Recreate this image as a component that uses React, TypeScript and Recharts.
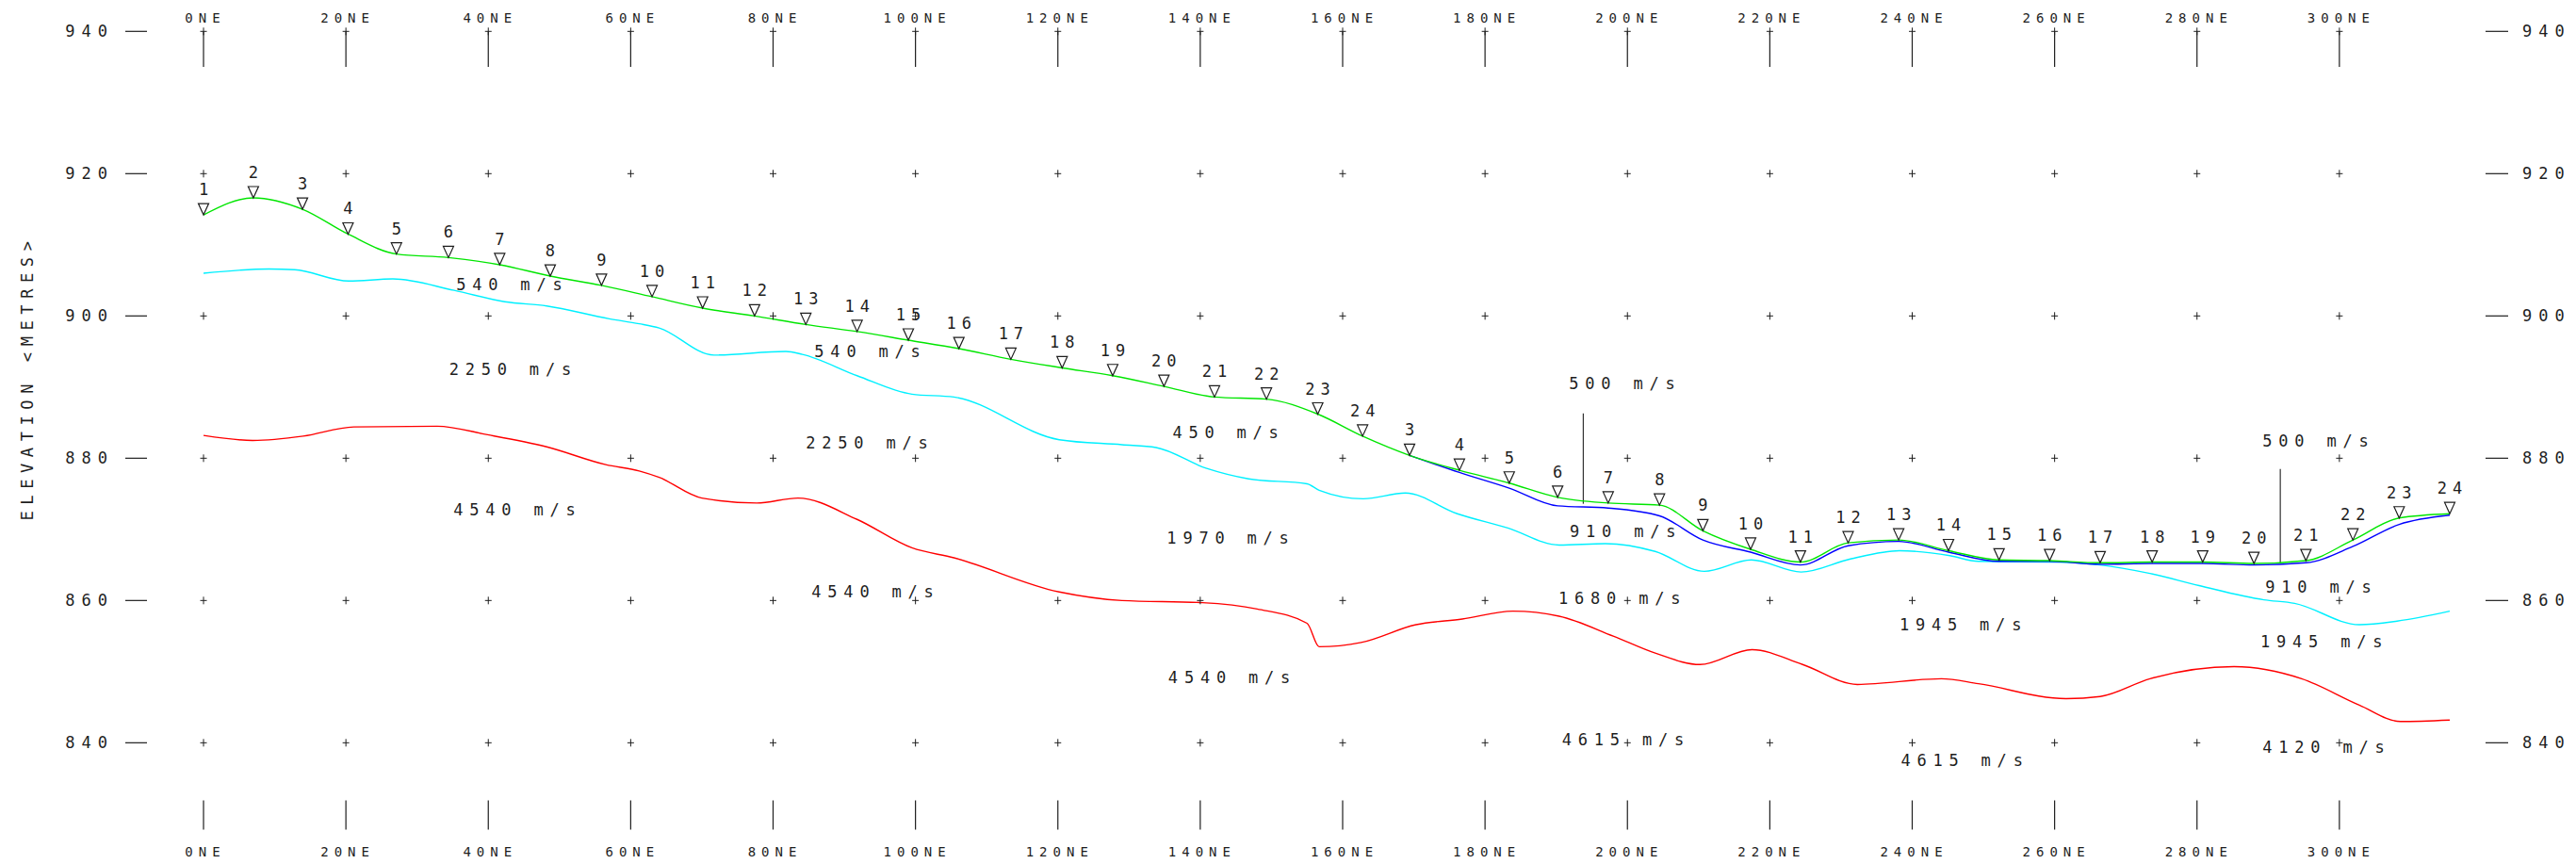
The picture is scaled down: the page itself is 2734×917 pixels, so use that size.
import React from 'react';
import { ComposedChart, Line, Scatter, XAxis, YAxis, ReferenceLine } from 'recharts';

// axis ticks
const stationTicks = [0, 20, 40, 60, 80, 100, 120, 140, 160, 180, 200, 220, 240, 260, 280, 300];
const elevTicks = [840, 860, 880, 900, 920, 940];

// first geophone spread (ground surface, green)
const spreadANumbers = [1, 2, 3, 4, 5, 6, 7, 8, 9, 10, 11, 12, 13, 14, 15, 16, 17, 18, 19, 20, 21, 22, 23, 24];
const spreadAStations = [0, 7.0, 13.9, 20.3, 27.1, 34.4, 41.6, 48.7, 55.9, 63.0, 70.1, 77.4, 84.6, 91.8, 99.0, 106.1, 113.4, 120.6, 127.7, 134.9, 142.0, 149.3, 156.5, 162.8];
const spreadAElev = [914.2, 916.6, 915.0, 911.5, 908.7, 908.2, 907.2, 905.6, 904.3, 902.7, 901.1, 900.0, 898.8, 897.8, 896.6, 895.4, 893.9, 892.7, 891.6, 890.1, 888.6, 888.3, 886.2, 883.1];

// second geophone spread
const spreadBNumbers = [3, 4, 5, 6, 7, 8, 9, 10, 11, 12, 13, 14, 15, 16, 17, 18, 19, 20, 21, 22, 23, 24];
const spreadBStations = [169.4, 176.4, 183.4, 190.2, 197.3, 204.5, 210.6, 217.3, 224.3, 231.0, 238.1, 245.1, 252.2, 259.3, 266.4, 273.7, 280.8, 288.0, 295.3, 301.9, 308.4, 315.5];
const spreadBElev = [880.4, 878.3, 876.5, 874.5, 873.7, 873.4, 869.8, 867.2, 865.4, 868.1, 868.5, 867.0, 865.7, 865.6, 865.3, 865.4, 865.4, 865.2, 865.6, 868.5, 871.6, 872.2];

// blue refractor (second spread)
const blueStations = [169.4, 176.4, 183.4, 190.2, 197.3, 204.5, 210.6, 217.3, 224.3, 231.0, 238.1, 245.1, 252.2, 259.3, 266.4, 273.7, 280.8, 288.0, 295.3, 301.9, 308.4, 315.5];
const blueElev = [880.4, 878.0, 875.8, 873.3, 873.0, 871.9, 868.5, 866.8, 865.0, 867.7, 868.3, 866.8, 865.5, 865.5, 865.1, 865.2, 865.2, 865.0, 865.3, 867.6, 870.7, 872.0];

// cyan refractor
const cyanStations = [0, 9.2, 12.8, 20.4, 26.6, 35.2, 42.3, 48.2, 57, 61.2, 64, 71.7, 81.8, 84.1, 91.8, 99.5, 105.4, 120.2, 129, 133.8, 140.8, 146.8, 155, 156.7, 162.9, 168.8, 176.1, 183.2, 190.4, 196.9, 203.9, 210.8, 217.4, 224.4, 231.2, 238.2, 245.3, 249.3, 260, 266.4, 273.4, 280.3, 289.4, 293.7, 302.8, 308.1, 315.5];
const cyanElev = [906.0, 906.6, 906.5, 904.9, 905.2, 903.6, 902.0, 901.4, 899.6, 898.9, 898.3, 894.5, 895.0, 894.6, 891.6, 889.0, 888.6, 882.6, 881.9, 881.5, 878.6, 877.1, 876.4, 875.5, 874.3, 875.1, 872.2, 870.2, 867.8, 868.0, 866.9, 864.1, 865.7, 864.0, 865.8, 867.0, 866.3, 865.5, 865.4, 865.0, 863.8, 862.1, 860.1, 859.6, 856.6, 857.1, 858.5];

// red refractor
const redStations = [0, 6.9, 14, 21.1, 32.8, 39.9, 48.2, 56.5, 61.2, 64, 70, 77.7, 83.5, 91.8, 99.5, 105.4, 120.2, 129, 140.3, 148, 155, 156.7, 162.6, 170.3, 176.8, 183.9, 190.4, 198, 203.9, 210.2, 217.5, 224.6, 232.3, 244.1, 249.3, 261.6, 266.4, 273.4, 285.2, 294.7, 302.8, 308.6, 315.5];
const redElev = [883.2, 882.5, 883.1, 884.4, 884.5, 883.3, 881.6, 879.1, 878.2, 877.3, 874.4, 873.7, 874.4, 871.4, 867.4, 866.0, 861.2, 860.0, 859.7, 858.8, 856.8, 853.5, 854.1, 856.6, 857.4, 858.5, 857.8, 855.0, 852.6, 851.0, 853.1, 851.0, 848.2, 849.0, 848.3, 846.2, 846.5, 849.0, 850.7, 849.0, 845.3, 843.0, 843.2];

// layer velocity labels
const velocityText = ['540 m/s', '2250 m/s', '4540 m/s', '540 m/s', '2250 m/s', '4540 m/s', '450 m/s', '1970 m/s', '4540 m/s', '500 m/s', '910 m/s', '1680 m/s', '4615 m/s', '1945 m/s', '4615 m/s', '500 m/s', '910 m/s', '1945 m/s', '4120 m/s'];
const velocityStations = [35.5, 34.5, 35.1, 85.8, 84.6, 85.4, 136.1, 135.3, 135.5, 191.8, 191.9, 190.3, 190.8, 238.2, 238.4, 289.2, 289.6, 288.9, 289.2];
const velocityElev = [904.4, 892.5, 872.7, 895.0, 882.2, 861.2, 883.6, 868.8, 849.2, 890.5, 869.7, 860.3, 840.4, 856.6, 837.5, 882.4, 861.9, 854.2, 839.4];

// shot point markers
const shotStations = [193.8, 291.7];
const shotTop = [886.3, 878.5];
const shotBottom = [873.6, 865.2];

const FONT = '"DejaVu Sans Mono", monospace';
const INK = '#1e1e1e';

const zip = (xs: number[], ys: number[]) => xs.map((x, i) => ({ x, y: ys[i] }));

const groundData = [...zip(spreadAStations, spreadAElev), ...zip(spreadBStations, spreadBElev)];
const geophoneData = [
  ...spreadAStations.map((x, i) => ({ x, y: spreadAElev[i], n: spreadANumbers[i] })),
  ...spreadBStations.map((x, i) => ({ x, y: spreadBElev[i], n: spreadBNumbers[i] })),
];
const blueData = zip(blueStations, blueElev);
const cyanData = zip(cyanStations, cyanElev);
const redData = zip(redStations, redElev);
const labelData = velocityText.map((t, i) => ({ x: velocityStations[i], y: velocityElev[i], t }));
const gridData = elevTicks.flatMap((e) => stationTicks.map((s) => ({ x: s, y: e })));

const Plus = (props: any) => {
  const { cx, cy } = props;
  return (
    <g stroke={INK} strokeWidth={1}>
      <line x1={cx - 3.5} y1={cy} x2={cx + 3.5} y2={cy} />
      <line x1={cx} y1={cy - 4} x2={cx} y2={cy + 4} />
    </g>
  );
};

const Geophone = (props: any) => {
  const { cx, cy, payload } = props;
  return (
    <g>
      <path
        d={`M${cx - 5.5},${cy - 12} L${cx + 5.5},${cy - 12} L${cx},${cy} Z`}
        fill="none"
        stroke={INK}
        strokeWidth={1.2}
      />
      <text
        x={cx + 3}
        y={cy - 21}
        textAnchor="middle"
        fontFamily={FONT}
        fontSize={17}
        letterSpacing={6}
        fill={INK}
      >
        {payload.n}
      </text>
    </g>
  );
};

const VelocityLabel = (props: any) => {
  const { cx, cy, payload } = props;
  return (
    <text
      x={cx}
      y={cy + 6}
      fontFamily={FONT}
      fontSize={17}
      letterSpacing={6.8}
      fill={INK}
      style={{ whiteSpace: 'pre' }}
    >
      {payload.t}
    </text>
  );
};

const TopTick = (props: any) => {
  const { x, payload } = props;
  return (
    <text x={x + 2} y={24} textAnchor="middle" fontFamily={FONT} fontSize={14} letterSpacing={6} fill={INK}>
      {`${payload.value}NE`}
    </text>
  );
};

const BottomTick = (props: any) => {
  const { x, payload } = props;
  return (
    <text x={x + 2} y={909} textAnchor="middle" fontFamily={FONT} fontSize={14} letterSpacing={6} fill={INK}>
      {`${payload.value}NE`}
    </text>
  );
};

const LeftTick = (props: any) => {
  const { y, payload } = props;
  return (
    <g>
      <text x={121} y={y + 6} textAnchor="end" fontFamily={FONT} fontSize={17} letterSpacing={7} fill={INK}>
        {payload.value}
      </text>
      <line x1={133} y1={y} x2={156} y2={y} stroke={INK} strokeWidth={1.2} />
    </g>
  );
};

const RightTick = (props: any) => {
  const { y, payload } = props;
  return (
    <g>
      <line x1={2638} y1={y} x2={2662} y2={y} stroke={INK} strokeWidth={1.2} />
      <text x={2677} y={y + 6} fontFamily={FONT} fontSize={17} letterSpacing={7} fill={INK}>
        {payload.value}
      </text>
    </g>
  );
};

const ElevationTitle = () => (
  <text
    x={0}
    y={0}
    transform="translate(35, 401) rotate(-90)"
    textAnchor="middle"
    fontFamily={FONT}
    fontSize={17}
    letterSpacing={6.6}
    fill={INK}
    style={{ whiteSpace: 'pre' }}
  >
    ELEVATION &lt;METRES&gt;
  </text>
);

export default function App() {
  return (
    <div style={{ position: 'absolute', left: 0, top: 0, background: '#fff' }}>
      <ComposedChart width={2734} height={917} margin={{ top: 32.3, right: 0, bottom: 14.4, left: 0 }}>
        <XAxis
          type="number"
          dataKey="x"
          domain={[0, 320]}
          ticks={stationTicks}
          interval={0}
          height={1}
          axisLine={false}
          tickLine={false}
          tick={<BottomTick />}
        />
        <XAxis
          xAxisId="top"
          orientation="top"
          type="number"
          dataKey="x"
          domain={[0, 320]}
          ticks={stationTicks}
          interval={0}
          height={1}
          axisLine={false}
          tickLine={false}
          tick={<TopTick />}
        />
        <YAxis
          yAxisId="l"
          type="number"
          domain={[825, 940]}
          ticks={elevTicks}
          interval={0}
          width={216}
          axisLine={false}
          tickLine={false}
          tick={<LeftTick />}
          label={<ElevationTitle />}
        />
        <YAxis
          yAxisId="r"
          orientation="right"
          type="number"
          domain={[825, 940]}
          ticks={elevTicks}
          interval={0}
          width={100}
          axisLine={false}
          tickLine={false}
          tick={<RightTick />}
        />

        {stationTicks.map((s) => (
          <ReferenceLine
            key={`t${s}`}
            yAxisId="l"
            segment={[{ x: s, y: 940 }, { x: s, y: 935 }]}
            stroke={INK}
            strokeWidth={1.2}
          />
        ))}
        {stationTicks.map((s) => (
          <ReferenceLine
            key={`b${s}`}
            yAxisId="l"
            segment={[{ x: s, y: 831.9 }, { x: s, y: 827.8 }]}
            stroke={INK}
            strokeWidth={1.2}
          />
        ))}
        {shotStations.map((s, i) => (
          <ReferenceLine
            key={`s${s}`}
            yAxisId="l"
            segment={[{ x: s, y: shotTop[i] }, { x: s, y: shotBottom[i] }]}
            stroke="#333"
            strokeWidth={1.2}
          />
        ))}

        {/* grid crosses drawn on the top / right axes (same domains) so those axes render */}
        <Scatter xAxisId="top" yAxisId="r" data={gridData} dataKey="y" shape={<Plus />} isAnimationActive={false} />

        <Line yAxisId="l" data={redData} dataKey="y" type="monotone" stroke="#ff0000" strokeWidth={1.4} dot={false} isAnimationActive={false} />
        <Line yAxisId="l" data={cyanData} dataKey="y" type="monotone" stroke="#00f0ff" strokeWidth={1.4} dot={false} isAnimationActive={false} />
        <Line yAxisId="l" data={blueData} dataKey="y" type="monotone" stroke="#0000ff" strokeWidth={1.4} dot={false} isAnimationActive={false} />
        <Line yAxisId="l" data={groundData} dataKey="y" type="monotone" stroke="#00e600" strokeWidth={1.4} dot={false} isAnimationActive={false} />

        <Scatter yAxisId="l" data={geophoneData} dataKey="y" shape={<Geophone />} isAnimationActive={false} />
        <Scatter yAxisId="l" data={labelData} dataKey="y" shape={<VelocityLabel />} isAnimationActive={false} />
      </ComposedChart>
    </div>
  );
}
